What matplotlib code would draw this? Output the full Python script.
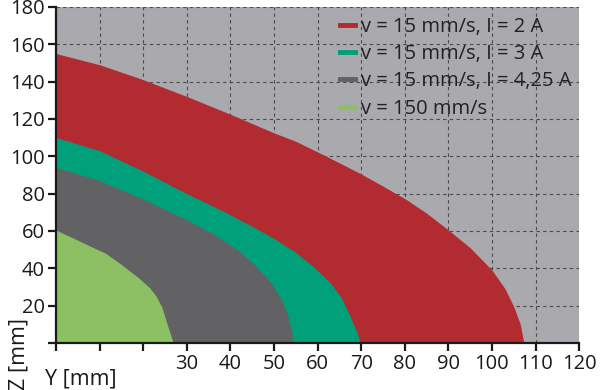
import matplotlib

matplotlib.use("Agg")
import matplotlib.pyplot as plt
from matplotlib.lines import Line2D

plt.rcParams["font.family"] = ["Open Sans", "DejaVu Sans"]

# boundary points (Y in mm, Z in mm)
red_y = [0, 10, 20, 30, 40, 50, 55, 62, 70, 75, 80.5, 85, 90, 95, 100, 103, 105, 106.5, 107.3]
red_z = [155, 149, 141, 132, 122.5, 112.5, 108, 100, 90.5, 84, 76.6, 69.5, 60.5, 51, 39, 29, 19.4, 10, 0]

teal_y = [0, 10, 20, 30, 38, 45, 50, 55, 59, 63, 65.5, 67.5, 69, 69.8]
teal_z = [110, 103, 92, 80, 71, 62.5, 56, 48.5, 41, 32, 24, 14, 6, 0]

gray_y = [0, 10, 15, 20, 30, 36, 41.6, 45.5, 49.4, 51.5, 53, 54, 54.4]
gray_z = [94, 87, 82, 77, 66, 58.5, 50, 42, 32, 24, 16, 7, 0]

green_y = [0, 5, 11.4, 15, 18.9, 21.5, 23, 24.3, 25.5, 26.9]
green_z = [60.5, 55, 48, 42, 35, 29.5, 25, 19, 10, 0]

labels = ["v = 15 mm/s, I = 2 A", "v = 15 mm/s, I = 3 A",
          "v = 15 mm/s, I = 4,25 A", "v = 150 mm/s"]
colors = ["#b22b30", "#00a07a", "#626264", "#8cc063"]

x_ticks = list(range(0, 130, 10))
x_ticklabels = ["", "", ""] + [str(v) for v in range(30, 130, 10)]
y_ticks = list(range(0, 200, 20))
y_ticklabels = [""] + [str(v) for v in range(20, 200, 20)]

fig = plt.figure(figsize=(6, 3.9), dpi=100)
ax = fig.add_axes([0.0933, 0.1205, 0.872, 0.862])
ax.set_facecolor("#a9a9ae")

series = [(red_y, red_z), (teal_y, teal_z), (gray_y, gray_z), (green_y, green_z)]
for (ys, zs), c in zip(series, colors):
    ax.fill_between(ys, zs, 0, color=c, linewidth=0, zorder=2)

ax.set_xlim(0, 120)
ax.set_ylim(0, 180)
ax.set_xticks(x_ticks)
ax.set_xticklabels(x_ticklabels)
ax.set_yticks(y_ticks)
ax.set_yticklabels(y_ticklabels)
ax.grid(True, color="#4a4a4a", linestyle=(0, (3, 3)), linewidth=0.8, zorder=1)
ax.set_axisbelow(True)
for s in ["top", "right"]:
    ax.spines[s].set_visible(False)
for s in ["left", "bottom"]:
    ax.spines[s].set_linewidth(1.6)
    ax.spines[s].set_color("#1a1a1a")
ax.tick_params(direction="out", length=6, width=1.6, colors="#1a1a1a",
               labelsize=14.5, pad=2)

handles = [Line2D([0], [0], color=c, linewidth=3.5) for c in colors]
leg = ax.legend(handles, labels, loc="upper right", bbox_to_anchor=(1.005, 1.0),
                frameon=False, fontsize=14.5, handlelength=0.75, handletextpad=0.3,
                labelspacing=0.36, borderaxespad=0.1)
for t in leg.get_texts():
    t.set_color("#222222")

fig.text(0.075, 0.015, "Y [mm]", fontsize=15.5, color="#1a1a1a", ha="left", va="baseline")
fig.text(0.032, 0.0, "Z [mm]", fontsize=15.5, color="#1a1a1a", rotation=90,
         ha="center", va="bottom")

fig.savefig("out.png", dpi=100)
